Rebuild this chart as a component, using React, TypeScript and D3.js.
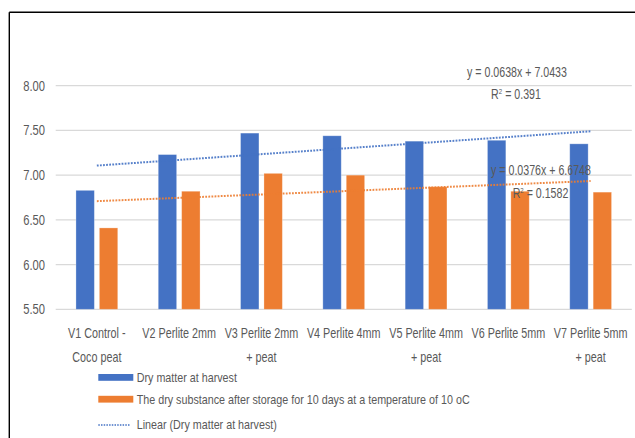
import React from "react";
import * as d3 from "d3";

const categories: string[][] = [
  ["V1 Control -", "Coco peat"],
  ["V2 Perlite 2mm"],
  ["V3 Perlite 2mm", "+ peat"],
  ["V4 Perlite 4mm"],
  ["V5 Perlite 4mm", "+ peat"],
  ["V6 Perlite 5mm"],
  ["V7 Perlite 5mm", "+ peat"],
];
const dryHarvest = [6.83, 7.23, 7.47, 7.44, 7.38, 7.39, 7.35];
const dryStorage = [6.41, 6.82, 7.02, 7.0, 6.87, 6.82, 6.81];
const yTicks = [5.5, 6.0, 6.5, 7.0, 7.5, 8.0];
const seriesNames = [
  "Dry matter at harvest",
  "The dry substance after storage for 10 days at a temperature of 10 oC",
  "Linear (Dry matter at harvest)",
];
const eqHarvest = ["y = 0.0638x + 7.0433", "0.391"];
const eqStorage = ["y = 0.0376x + 6.6748", "0.1582"];

const W = 635;
const H = 438;
const BLUE = "#4472C4";
const ORANGE = "#ED7D31";
const FONT = "'Liberation Sans', Arial, sans-serif";
const GRAY = "#595959";

function linreg(vals: number[]) {
  const xs = vals.map((_, i) => i + 1);
  const mx = d3.mean(xs)!;
  const my = d3.mean(vals)!;
  let num = 0,
    den = 0;
  xs.forEach((x, i) => {
    num += (x - mx) * (vals[i] - my);
    den += (x - mx) * (x - mx);
  });
  const slope = num / den;
  return { slope, intercept: my - slope * mx };
}

type NProps = {
  x: number;
  y: number;
  sx?: number;
  size?: number;
  anchor?: "start" | "middle" | "end";
  children?: React.ReactNode;
  dy?: string;
};
function NText({ x, y, sx = 0.78, size = 14, anchor = "start", children, dy }: NProps) {
  return (
    <text
      transform={`translate(${x},${y}) scale(${sx},1)`}
      textAnchor={anchor}
      fontFamily={FONT}
      fontSize={size}
      fill={GRAY}
      dy={dy}
    >
      {children}
    </text>
  );
}

export default function App() {
  const x0 = d3.scaleBand<number>().domain(d3.range(categories.length)).range([55.7, 631.8]).padding(0);
  const x1 = d3.scaleBand<number>().domain([0, 1]).range([-20.9, 20.9]).paddingInner(0.214).paddingOuter(0);
  const y = d3.scaleLinear().domain([5.5, 8.0]).range([309.3, 85.7]);
  const cx = (i: number) => x0(i)! + x0.bandwidth() / 2;

  const regs = [linreg(dryHarvest), linreg(dryStorage)];
  const series = [dryHarvest, dryStorage];
  const colors = [BLUE, ORANGE];

  return (
    <div style={{ position: "fixed", left: 0, top: 0 }}>
      <svg width={W} height={H} style={{ display: "block", background: "#fff" }}>
        <rect x={0} y={0} width={W} height={H} fill="#fff" />
        <line x1={9.3} x2={W} y1={12.3} y2={12.3} stroke="#000" strokeWidth={1.4} />
        <line x1={9.3} x2={9.3} y1={12.3} y2={H} stroke="#000" strokeWidth={1.4} />

        {yTicks.map((t) => (
          <g key={t}>
            <line x1={55.7} x2={631.8} y1={y(t)} y2={y(t)} stroke="#D9D9D9" strokeWidth={1.2} />
            <NText x={45} y={y(t)} anchor="end" dy="0.36em" sx={0.8}>
              {t.toFixed(2)}
            </NText>
          </g>
        ))}

        {series.map((vals, s) =>
          vals.map((v, i) => (
            <rect
              key={`${s}-${i}`}
              x={cx(i) + x1(s)!}
              y={y(v)}
              width={x1.bandwidth()}
              height={y(5.5) - y(v)}
              fill={colors[s]}
              stroke="#fff"
              strokeOpacity={0.35}
              strokeWidth={0.8}
            />
          ))
        )}

        {regs.map((r, k) => {
          const pts = [1, categories.length];
          const d = d3
            .line<number>()
            .x((xx) => cx(xx - 1))
            .y((xx) => y(r.slope * xx + r.intercept))(pts);
          return (
            <path
              key={k}
              d={d || ""}
              fill="none"
              stroke={colors[k]}
              strokeWidth={2}
              strokeDasharray="1.8 1.3"
              opacity={0.9}
            />
          );
        })}

        <NText x={517} y={77} anchor="middle" sx={0.76}>
          {eqHarvest[0]}
        </NText>
        <NText x={516} y={99} anchor="middle" sx={0.76}>
          R<tspan dy={-5} fontSize={8}>2</tspan>
          <tspan dy={5}> = {eqHarvest[1]}</tspan>
        </NText>
        <NText x={541} y={175} anchor="middle" sx={0.76}>
          {eqStorage[0]}
        </NText>
        <NText x={540.5} y={198} anchor="middle" sx={0.76}>
          R<tspan dy={-5} fontSize={8}>2</tspan>
          <tspan dy={5}> = {eqStorage[1]}</tspan>
        </NText>

        {categories.map((lines, i) =>
          lines.map((l, j) => (
            <NText key={`${i}-${j}`} x={cx(i)} y={338 + j * 23.5} anchor="middle" sx={0.77}>
              {l}
            </NText>
          ))
        )}

        <rect x={98.3} y={374} width={35} height={6.8} fill={BLUE} />
        <NText x={136.7} y={377.4} dy="0.36em" size={12.5} sx={0.86}>
          {seriesNames[0]}
        </NText>
        <rect x={98.3} y={395.8} width={35} height={6.8} fill={ORANGE} />
        <NText x={136.7} y={399.2} dy="0.36em" size={12.5} sx={0.86}>
          {seriesNames[1]}
        </NText>
        <line x1={98.3} x2={130.7} y1={425} y2={425} stroke={BLUE} strokeWidth={1.6} strokeDasharray="1.5 1.2" />
        <NText x={136.7} y={424.3} dy="0.36em" size={12.5} sx={0.86}>
          {seriesNames[2]}
        </NText>
      </svg>
    </div>
  );
}
